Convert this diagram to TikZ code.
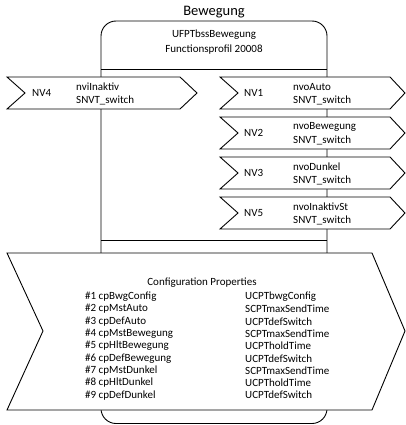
\documentclass[tikz,border=0pt]{standalone}
\usepackage{fontspec}
\setmainfont{Carlito}
\begin{document}
\begin{tikzpicture}[x=1pt,y=-1pt,
  shp/.style={draw=black,line width=0.9pt,fill=white,line join=miter},
  txt/.style={inner sep=0pt,font=\fontsize{11}{13}\selectfont,anchor=west},
  ctxt/.style={inner sep=0pt,font=\fontsize{11}{13}\selectfont}]
\useasboundingbox (0,0) rectangle (406,425);
% main block
\draw[shp,rounded corners=15pt] (101,21) rectangle (327,423.5);
\draw[line width=0.9pt] (101,69) -- (327,69);
\draw[line width=0.9pt] (101,240) -- (327,240);
\node[inner sep=0pt,font=\fontsize{14.5}{16}\selectfont] (title) at (214,12) {Bewegung};
\node[ctxt] (fp1) at (214,35) {UFPTbssBewegung};
\node[ctxt] (fp2) at (214,50) {Functionsprofil 20008};
% input NV4
\draw[shp] (7,77) -- (180,77) -- (197,93) -- (180,109) -- (7,109) -- (25,93) -- cycle;
\node[txt] (nv4) at (32,93) {NV4};
\node[txt] (nv4a) at (76,87) {nviInaktiv};
\node[txt] (nv4b) at (76,100) {SNVT\_switch};
% outputs
\foreach \t/\n/\a in {77/NV1/nvoAuto,117/NV2/nvoBewegung,157/NV3/nvoDunkel,197/NV5/nvoInaktivSt}{
  \draw[shp] (220,\t) -- (390,\t) -- (405,\t+16) -- (390,\t+32) -- (220,\t+32) -- (238,\t+16) -- cycle;
  \node[txt] (l\n) at (244,\t+16) {\n};
  \node[txt] (a\n) at (293,\t+10) {\a};
  \node[txt] (b\n) at (293,\t+23) {SNVT\_switch};
}
% configuration properties
\draw[shp] (7,253) -- (372,253) -- (405,331) -- (372,410) -- (7,410) -- (43,331) -- cycle;
\node[ctxt] (cfg) at (202,283) {Configuration Properties};
\foreach \i/\l/\r in {1/cpBwgConfig/UCPTbwgConfig,2/cpMstAuto/SCPTmaxSendTime,3/cpDefAuto/UCPTdefSwitch,4/cpMstBewegung/SCPTmaxSendTime,5/cpHltBewegung/UCPTholdTime,6/cpDefBewegung/UCPTdefSwitch,7/cpMstDunkel/SCPTmaxSendTime,8/cpHltDunkel/UCPTholdTime,9/cpDefDunkel/UCPTdefSwitch}{
  \node[txt] (cpl\i) at (85,{284.5+12.3*\i}) {\#\i\ \l};
  \node[txt] (cpr\i) at (245,{284.5+12.3*\i}) {\r};
}
\end{tikzpicture}
\end{document}
